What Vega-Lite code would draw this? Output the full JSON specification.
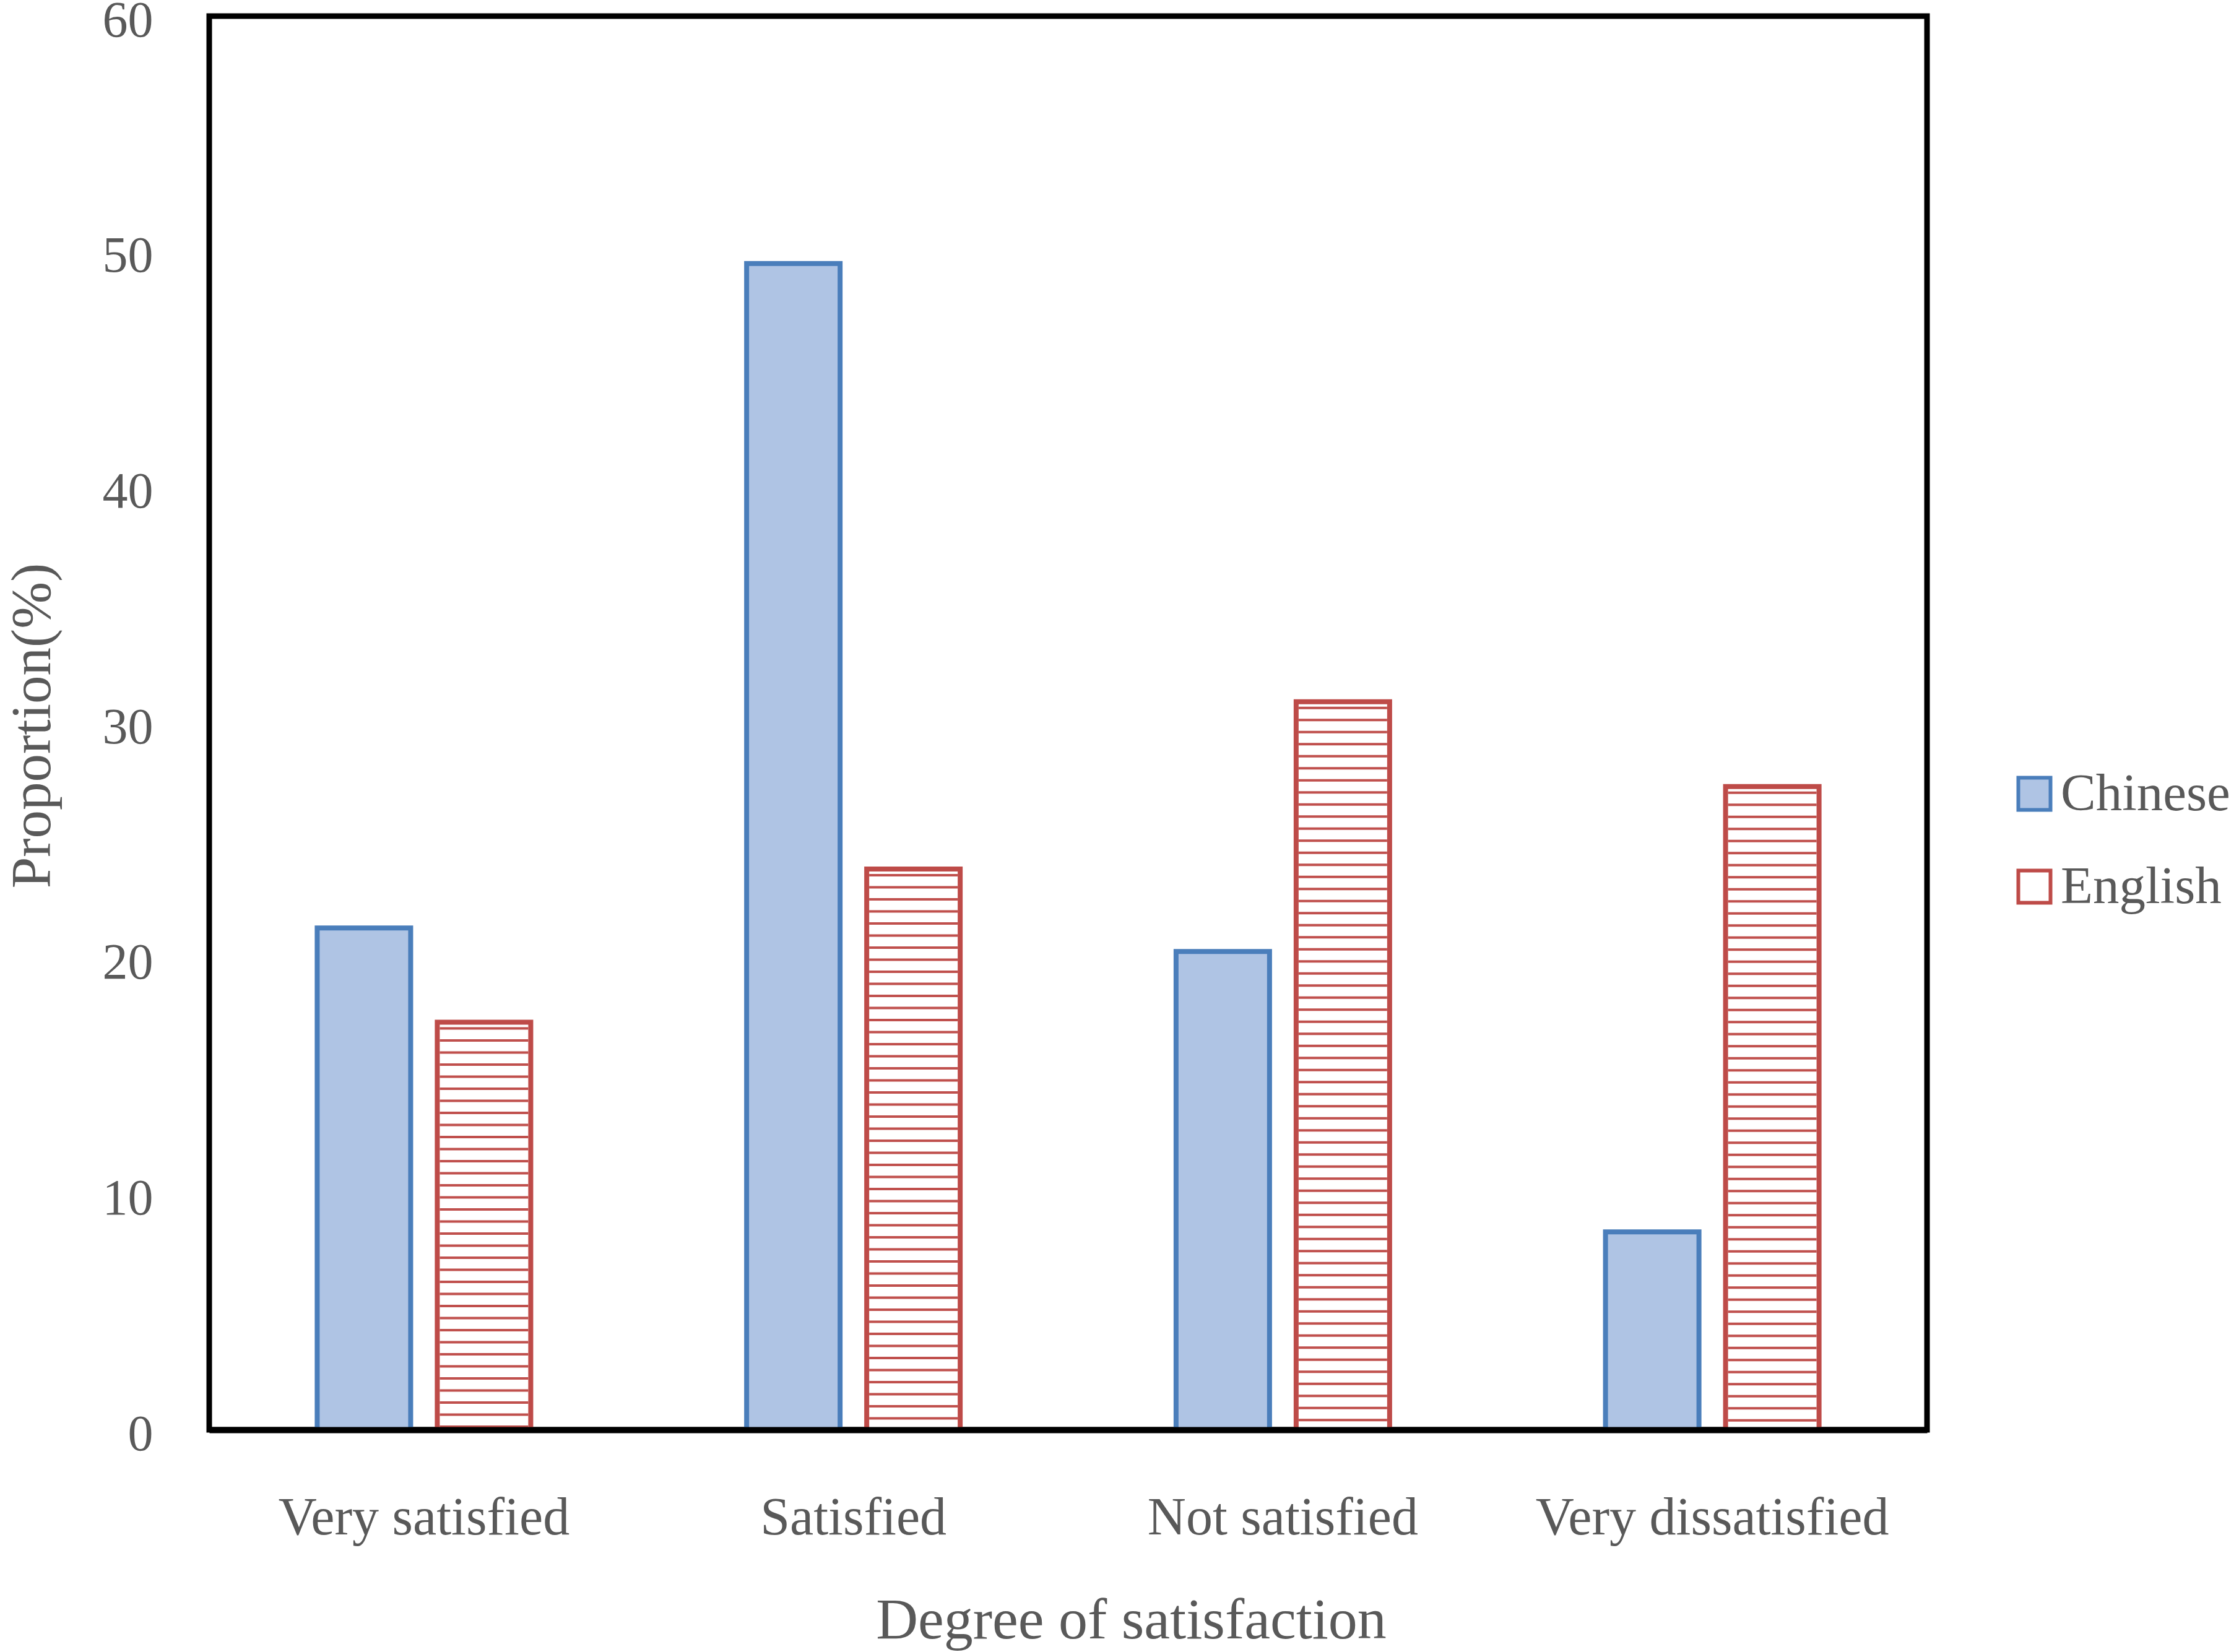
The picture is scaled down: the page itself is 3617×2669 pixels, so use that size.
{
  "$schema": "https://vega.github.io/schema/vega-lite/v6.json",
  "autosize": {"type": "none"},
  "padding": {"left": 338, "top": 26, "right": 504, "bottom": 359},
  "width": 2775,
  "height": 2284,
  "background": "white",
  "config": {
    "font": "Liberation Serif",
    "view": {"stroke": "black", "strokeWidth": 9},
    "axis": {
      "labelFont": "Liberation Serif",
      "titleFont": "Liberation Serif",
      "labelColor": "#595959",
      "titleColor": "#595959",
      "titleFontWeight": "normal",
      "labelLimit": 0,
      "titleLimit": 0,
      "grid": false,
      "ticks": false,
      "tickSize": 0
    },
    "legend": {
      "labelFont": "Liberation Serif",
      "labelColor": "#595959",
      "labelLimit": 0
    }
  },
  "data": {
    "values": [
      {"degree": "Very satisfied", "language": "Chinese", "proportion": 21.3},
      {"degree": "Very satisfied", "language": "English", "proportion": 17.3},
      {"degree": "Satisfied", "language": "Chinese", "proportion": 49.5},
      {"degree": "Satisfied", "language": "English", "proportion": 23.8},
      {"degree": "Not satisfied", "language": "Chinese", "proportion": 20.3},
      {"degree": "Not satisfied", "language": "English", "proportion": 30.9},
      {"degree": "Very dissatisfied", "language": "Chinese", "proportion": 8.4},
      {"degree": "Very dissatisfied", "language": "English", "proportion": 27.3}
    ]
  },
  "encoding": {
    "x": {
      "field": "degree",
      "type": "nominal",
      "sort": ["Very satisfied", "Satisfied", "Not satisfied", "Very dissatisfied"],
      "scale": {"paddingInner": 0.5027, "paddingOuter": 0.2514},
      "axis": {
        "title": "Degree of satisfaction",
        "labelAngle": 0,
        "labelFontSize": 86,
        "labelPadding": 100,
        "titleFontSize": 94,
        "titleX": 1489,
        "titleY": 336,
        "titleBaseline": "alphabetic",
        "titleAlign": "center",
        "domain": true,
        "domainColor": "black",
        "domainWidth": 10,
        "zindex": 1
      }
    },
    "xOffset": {
      "field": "language",
      "type": "nominal",
      "scale": {"domain": ["Chinese", "English"], "paddingInner": 0.2216, "paddingOuter": 0}
    },
    "y": {
      "field": "proportion",
      "type": "quantitative",
      "scale": {"domain": [0, 60], "nice": false},
      "axis": {
        "title": "Proportion(%)",
        "values": [0, 10, 20, 30, 40, 50, 60],
        "labelFontSize": 82,
        "labelPadding": 91,
        "labelOffset": 7,
        "domain": false,
        "titleFontSize": 91,
        "titleAngle": -90,
        "titleX": -258,
        "titleY": 1146,
        "titleBaseline": "alphabetic",
        "titleAlign": "center"
      }
    }
  },
  "layer": [
    {
      "mark": {"type": "bar", "strokeWidth": 8},
      "encoding": {
        "fill": {
          "field": "language",
          "type": "nominal",
          "scale": {"domain": ["Chinese", "English"], "range": ["#AFC4E4", "#FFFFFF"]},
          "legend": {
            "title": null,
            "orient": "none",
            "legendX": 2906,
            "legendY": 1214,
            "padding": 0,
            "symbolType": "square",
            "symbolSize": 2704,
            "symbolStrokeWidth": 6,
            "labelFontSize": 85,
            "labelOffset": 0,
            "rowPadding": 64
          }
        },
        "stroke": {
          "field": "language",
          "type": "nominal",
          "scale": {"domain": ["Chinese", "English"], "range": ["#4A7EBB", "#BE4B48"]},
          "legend": null
        }
      }
    },
    {
      "transform": [{"filter": "datum.language === 'English'"}],
      "mark": {
        "type": "rule",
        "color": "#C0504D",
        "strokeWidth": 143,
        "strokeCap": "butt",
        "strokeDash": [4, 15.5],
        "strokeDashOffset": -8
      },
      "encoding": {
        "y2": {"datum": 0}
      }
    }
  ]
}
